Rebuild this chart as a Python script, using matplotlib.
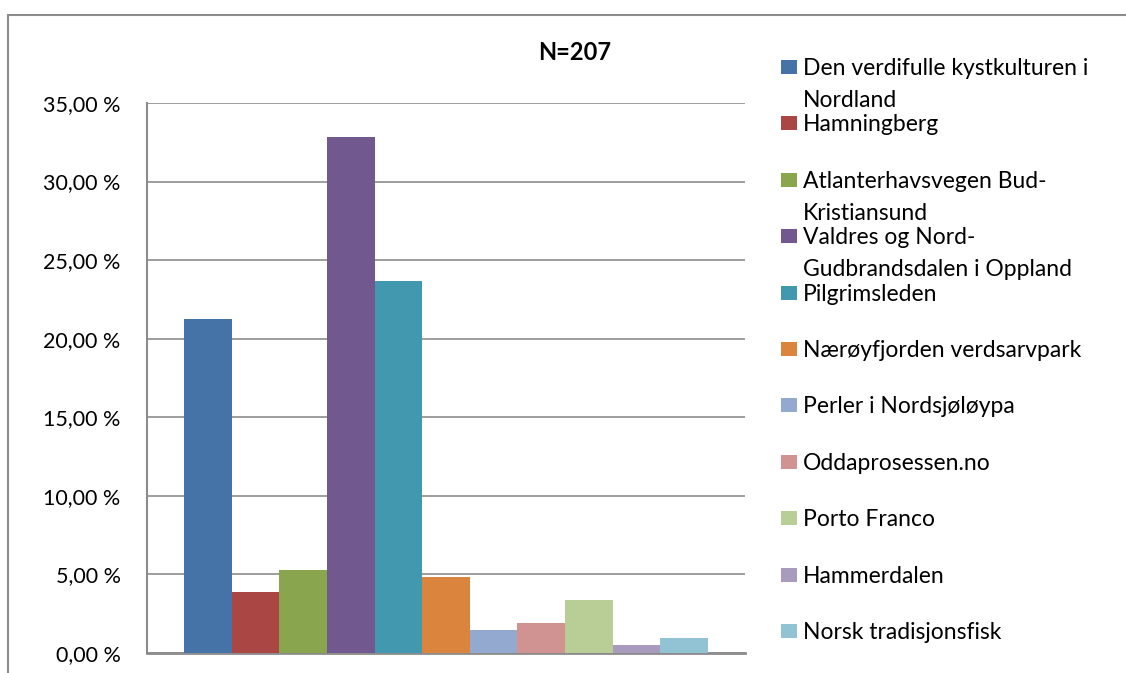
import numpy as np
import matplotlib
matplotlib.use("Agg")
import matplotlib.pyplot as plt
from matplotlib.patches import Rectangle
from matplotlib.ticker import FuncFormatter

plt.rcParams['font.family'] = ['Lato', 'DejaVu Sans']

# data: share of N=207 answers (percent)
labels = ['Den verdifulle kystkulturen i\nNordland', 'Hamningberg',
          'Atlanterhavsvegen Bud-\nKristiansund', 'Valdres og Nord-\nGudbrandsdalen i Oppland',
          'Pilgrimsleden', 'Nærøyfjorden verdsarvpark', 'Perler i Nordsjøløypa',
          'Oddaprosessen.no', 'Porto Franco', 'Hammerdalen', 'Norsk tradisjonsfisk']
values = [21.26, 3.86, 5.31, 32.85, 23.67, 4.83, 1.45, 1.93, 3.38, 0.48, 0.97]
colors = ['#4572A7', '#AA4643', '#89A54E', '#71588F', '#4198AF', '#DB843D',
          '#93A9CF', '#D19392', '#B9CD96', '#A99BBD', '#92C3D5']
yticks = [0, 5, 10, 15, 20, 25, 30, 35]

fig = plt.figure(figsize=(11.26, 6.73), dpi=100)
W, H = 1126, 673

# outer chart frame
fig.add_artist(Rectangle((8 / W, -0.1), 1.2, 1 - 15 / H + 0.1, transform=fig.transFigure,
                         fill=False, edgecolor='#8c8c8c', lw=1.5))

ax = fig.add_axes([147 / W, 1 - 653 / H, (745 - 147) / W, (653 - 103) / H])
x = np.arange(len(values))
ax.bar(x, values, width=1.0, color=colors, zorder=3)
ax.set_xlim(-0.5 - 0.776, len(values) - 0.5 + 0.776)
ax.set_ylim(0, 35)
ax.set_yticks(yticks)
ax.yaxis.set_major_formatter(FuncFormatter(lambda v, p: ('%.2f %%' % v).replace('.', ',')))
ax.set_xticks([])
ax.tick_params(axis='y', length=0, pad=19, labelsize=15.5)
ax.grid(axis='y', color='#8c8c8c', lw=1.2, zorder=0)
for s in ['top', 'right']:
    ax.spines[s].set_visible(False)
ax.spines['left'].set_color('#8c8c8c')
ax.spines['bottom'].set_color('#8c8c8c')
ax.spines['left'].set_linewidth(1.5)
ax.spines['bottom'].set_linewidth(2)

fig.text(575 / W, 1 - 52 / H, 'N=207', ha='center', va='center', fontsize=17, fontweight='bold')

# legend drawn by hand to keep the even spacing of the original
for i, (lab, c) in enumerate(zip(labels, colors)):
    yc = 67 + i * 56.4
    fig.add_artist(Rectangle((781 / W, 1 - (yc + 7) / H), 16 / W, 14 / H,
                             transform=fig.transFigure, facecolor=c, edgecolor='none'))
    fig.text(803 / W, 1 - (yc - 9) / H, lab, ha='left', va='top', fontsize=16.5,
             linespacing=1.65)

fig.savefig('out.png', dpi=100)
